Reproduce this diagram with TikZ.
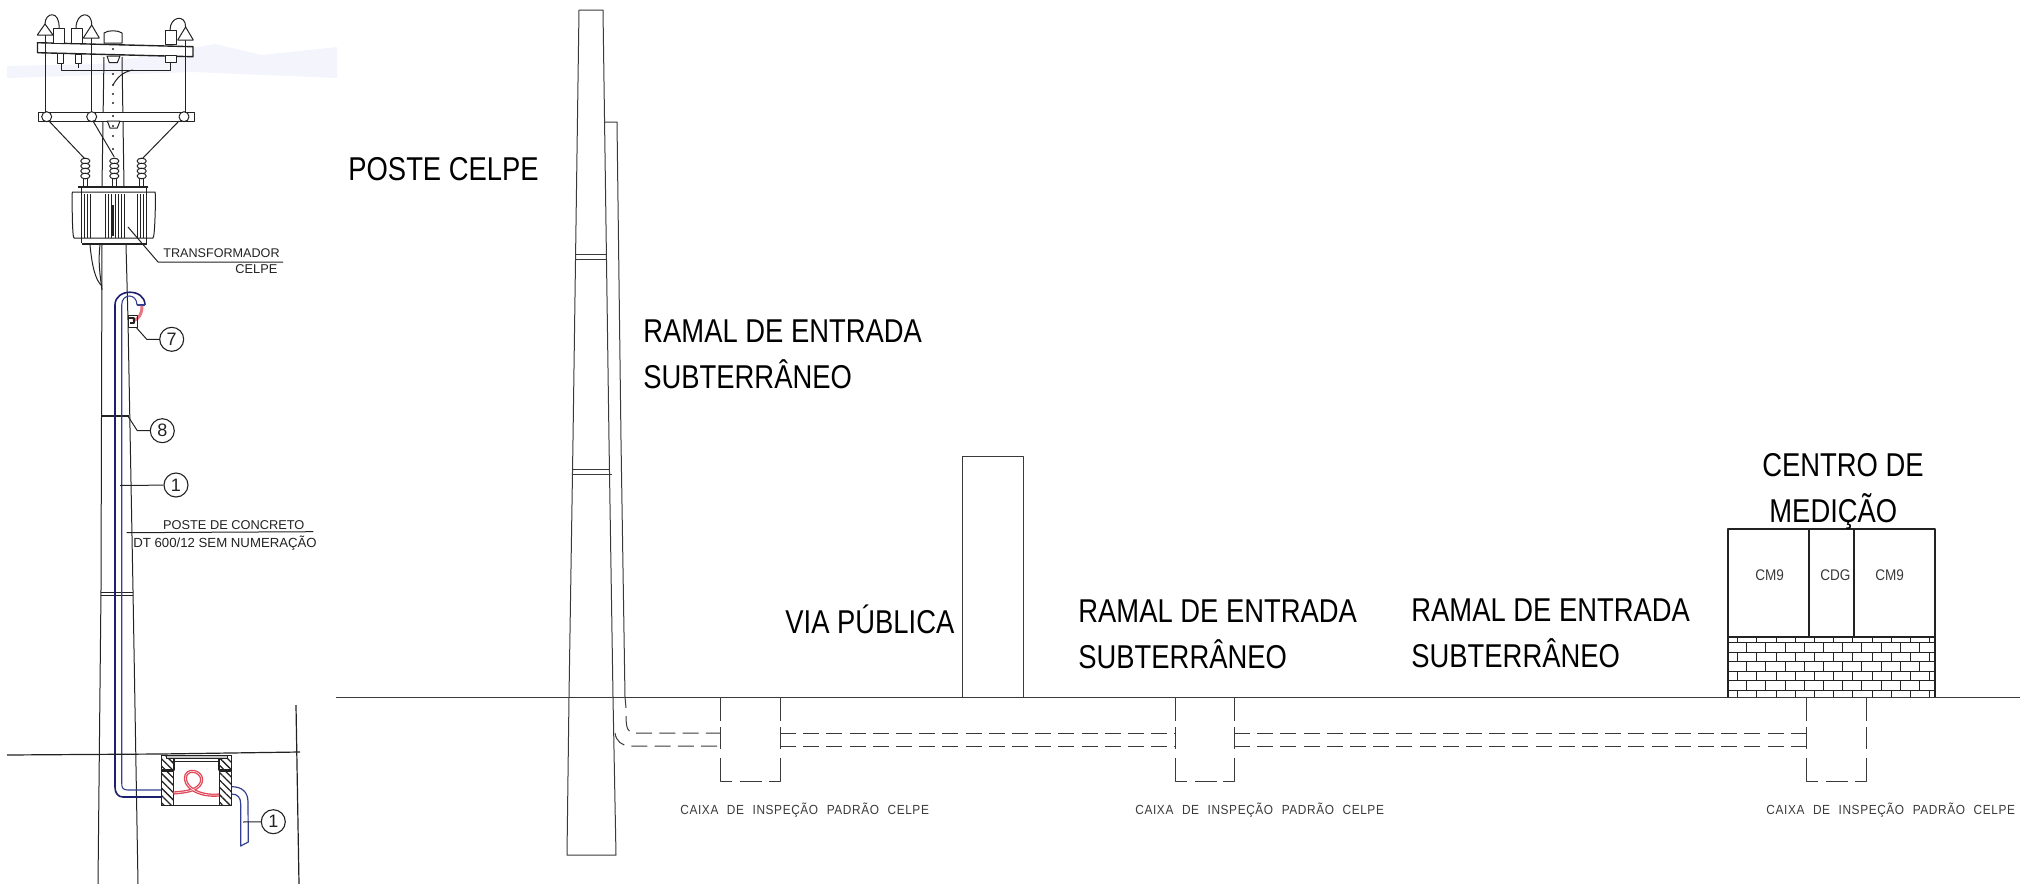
\documentclass[tikz,border=0pt]{standalone}
\usepackage{fontspec}
\usetikzlibrary{patterns.meta}
\setmainfont{Liberation Sans}
\newfontfamily\bigf[FakeStretch=.83]{Liberation Sans}
\newfontfamily\cmf[FakeStretch=.88]{Liberation Sans}
\newfontfamily\caixaf[FakeStretch=.9,LetterSpace=4.5,WordSpace=2.2]{Liberation Sans}
\definecolor{ink}{HTML}{222222}
\definecolor{cad}{HTML}{3A3A3A}
\definecolor{navy}{HTML}{1B1F6E}
\definecolor{blu}{HTML}{34408F}
\definecolor{redc}{HTML}{E0485A}
\definecolor{smear}{HTML}{F3F4FC}
\tikzset{
  bigt/.style={anchor=base west,inner sep=0pt,text=black,font={\fontsize{16.5}{20}\bigf}},
  cmt/.style={anchor=base west,inner sep=0pt,text=cad,font={\fontsize{7.7}{9}\cmf}},
  caixat/.style={anchor=base west,inner sep=0pt,text=cad,font={\fontsize{6.6}{8}\caixaf}},
  notet/.style={anchor=base west,inner sep=0pt,text=ink,font={\fontsize{6.4}{8}\selectfont}},
  old/.style={draw=ink,line width=.5pt},
  oldk/.style={draw=ink,line width=.7pt},
  cadl/.style={draw=cad,line width=.5pt},
  cadd/.style={draw=cad,line width=.5pt,dash pattern=on 8pt off 3.6pt},
  call/.style={circle,draw=ink,line width=.55pt,minimum size=24*.5pt,inner sep=0pt,text=ink,font={\fontsize{9}{10}\selectfont}},
  brick/.style={draw=ink,line width=.45pt},
  hatchw/.style={draw=ink,line width=.5pt,fill=white,postaction={pattern={Lines[angle=-45,distance=2.6pt,line width=.65pt]},pattern color=ink}},
}
\begin{document}
\begin{tikzpicture}[x=.5pt,y=-.5pt,line join=round]
\useasboundingbox (0,0) rectangle (2020,884);
% smear behind the top of the left drawing
\fill[smear] (7,66) -- (100,64) -- (193,48) -- (215,44) -- (262,55) -- (337,47) -- (337,78) -- (193,72) -- (7,78) -- cycle;
% ---------- left drawing: pole
\draw[old] (104,57) -- (102,186);
\draw[old] (122,57) -- (124,186);
\draw[old] (102,245) -- (101,590) -- (98,884);
\draw[old] (126,245) -- (128,320) -- (133,590) -- (138,884);
\draw[old,fill=white] (104,43) -- (104,33) .. controls (108,30) and (118,30) .. (122,33) -- (122,43) -- cycle;
\draw[oldk,line width=1pt] (102,416) -- (129,416);
\draw[old] (101,592) -- (133,592) (101,595) -- (133,595);
% top crossarm
\draw[oldk,fill=white] (37.5,42.7) -- (37.5,52.7) -- (193,56.7) -- (193,46.7) -- cycle;
% vertical wires and insulators
\draw[old] (45,35) -- (45,113) (91.7,38) -- (91.7,113) (185.6,40) -- (185.6,113);
\draw[old,fill=white] (37.3,35) -- (45,24) -- (53,35) -- cycle;
\draw[old,fill=white] (83.3,38) -- (91.7,25) -- (99.3,38) -- cycle;
\draw[old,fill=white] (177.7,40) -- (185.6,27) -- (193.3,40) -- cycle;
% fuses
\draw[old,fill=white] (53.3,28) rectangle (64,43);
\draw[old,fill=white] (71,28) rectangle (82,43);
\draw[old,fill=white] (165,30) rectangle (176.7,44.5);
\draw[old,fill=white] (57,53.5) rectangle (63.5,63);
\draw[old,fill=white] (75,54) rectangle (81,63);
\draw[old,fill=white] (165,55.5) rectangle (176.7,62);
\draw[old] (45,24) .. controls (45,12) and (60,10) .. (59,28);
\draw[old] (76,28) .. controls (76,12) and (92,10) .. (91.7,25);
\draw[old] (170,30) .. controls (170,16) and (186,14) .. (185.6,27);
% jumper wire
\draw[old] (61,63) -- (61,70) -- (170,70) -- (170,62) (78,63) -- (78,68);
\draw[old] (133,70) .. controls (122,72) and (117,78) .. (113,85);
% brackets
\draw[old,fill=white] (107,56) -- (120,56) -- (117.3,62.7) -- (109.3,62.7) -- cycle;
% lower crossarm
\draw[old,fill=white] (38,112) rectangle (194,121);
\draw[old,fill=white] (107.3,121) -- (120,121) -- (117.3,128) -- (110,128) -- cycle;
\foreach \cx in {46.7,91.7,184} \draw[old,fill=white] (\cx,116.7) circle (5);
\foreach \dy in {49,74,85,94,103,116,126,136,149} \fill[ink] (113,\dy) circle (1.2);
% cables to bushings
\draw[old] (49,121) -- (85,159) (93,121) -- (114.3,157) (179,121) -- (142,159);
% bushings
\foreach \bx in {85.3,114.3,141.7}{
  \draw[old] (\bx-2,178) -- (\bx-2,186) (\bx+2,178) -- (\bx+2,186);
  \foreach \by in {161,166,171,176} \draw[old,fill=white] (\bx,\by) ellipse (4.6 and 2.8);
}
% transformer
\draw[oldk,line width=1pt] (78,187) -- (148,187);
\draw[old,fill=white] (72.3,192) -- (155,192) .. controls (156,192) and (155,238) .. (153,238) -- (74,238) .. controls (72,238) and (72,192) .. (72.3,192) -- cycle;
\draw[old] (81.7,187) -- (81.7,238) (146.7,187) -- (146.7,238);
\foreach \fx in {84,87,90,105,108,111,115,118,121,124,137,140,143} \draw[old] (\fx,194) -- (\fx,238);
\draw[line width=.9pt,draw=ink] (113,205) -- (113,236);
\draw[old] (81.7,238) -- (81.7,243) (146.7,238) -- (146.7,243);
\draw[oldk] (82,244) -- (147,244);
% loop of cable
\draw[old] (90,245) .. controls (92,265) and (95,280) .. (102,286);
\draw[old] (100,245) .. controls (98,262) and (100,275) .. (102,290);
% transformer note
\coordinate (trA) at (128,227);
\coordinate (trB) at (158,262);
\coordinate (trC) at (283,262);
\draw[old] (trA) -- (trB) -- (trC);
\node[notet,font={\fontsize{6.3}{8}\selectfont}] (t1) at (163,257) {TRANSFORMADOR};
\node[notet] (t2) at (235,273) {CELPE};
% pole note
\coordinate (poA) at (126.7,532.7);
\coordinate (poB) at (313.3,531.7);
\draw[old] (poA) -- (poB);
\node[notet] (t3) at (162.7,529) {POSTE DE CONCRETO};
\node[notet,font={\fontsize{6.6}{8}\selectfont}] (t4) at (133,547.3) {DT 600/12 SEM NUMERAÇÃO};
% blue cable
\draw[navy,line width=.8pt] (115,787) -- (115,305) .. controls (115,288) and (145,288) .. (145,305);
\draw[blu,line width=.55pt] (121.7,783) -- (121.7,305) .. controls (121.7,293) and (137,293) .. (137,305);
\draw[navy,line width=.8pt] (115,787) .. controls (115,793) and (118,797) .. (123,797) -- (161,797);
\draw[blu,line width=.55pt] (121.7,783) .. controls (121.7,788) and (123,790) .. (128,790) -- (161,790);
\draw[blu,line width=.7pt] (137,305) -- (145,305);
\draw[redc!75!white,line width=1.5pt] (142,306) .. controls (142,314) and (139,319) .. (133,321);
\draw[old] (128,315) rectangle (137,327);
\draw[ink,line width=.7pt] (128,318) -- (134,318) -- (134,323) -- (130,323);
% callouts
\node[call] (c7) at (171.7,339.3) {7};
\coordinate (l7a) at (136.7,328);
\coordinate (l7b) at (146.7,339.3);
\draw[old] (l7a) -- (l7b) -- (c7);
\node[call] (c8) at (162.3,430.7) {8};
\coordinate (l8a) at (128.3,416.7);
\coordinate (l8b) at (137.3,430.7);
\draw[old] (l8a) -- (l8b) -- (c8);
\node[call] (c1) at (176,485) {1};
\coordinate (l1a) at (120,485.5);
\draw[old] (l1a) -- (c1);
% ground lines
\draw[old,line width=.6pt] (7,755) -- (160,754) -- (300,752);
\draw[old,line width=.6pt] (296,705) -- (299,884);
% inspection box
\draw[hatchw] (161,755) -- (173.3,755) -- (173.3,770) -- (161,770) -- cycle;
\draw[hatchw] (219.3,755) -- (231.7,755) -- (231.7,770) -- (219.3,770) -- cycle;
\draw[hatchw] (161,771) rectangle (173.3,805);
\draw[hatchw] (219.3,771) rectangle (231.7,805);
\draw[old] (161,805) -- (231.7,805);
\draw[old,fill=gray!45] (166,755) rectangle (227,758.5);
\draw[old] (172,761) -- (220,761);
\draw[ink,line width=1.2pt] (161,770) -- (174,770) -- (174,759) (219,759) -- (219,770) -- (231.7,770);
% red cable
\draw[redc,line width=1.6pt] (173.5,793) .. controls (185,792) and (197,791) .. (201,783) .. controls (205,773) and (190,767) .. (186,775) .. controls (182,786) and (198,797) .. (219,795);
\draw[white,line width=.25pt] (173.5,793) .. controls (185,792) and (197,791) .. (201,783) .. controls (205,773) and (190,767) .. (186,775) .. controls (182,786) and (198,797) .. (219,795);
% exit cable
\draw[blu,line width=.6pt] (231.7,786.7) .. controls (242,786.7) and (248,792) .. (248,802) -- (248.3,842) -- (240.7,846) -- (240.7,804) .. controls (240.7,798) and (238,794) .. (231.7,794);
\node[call] (c1b) at (273.3,821.7) {1};
\coordinate (l1b) at (243,822);
\draw[old] (l1b) -- (c1b);
% ---------- right drawing: ground
\coordinate (gL) at (336,697);
\coordinate (gR) at (2020,697);
\draw[cadl] (gL) -- (gR);
% main pole
\draw[cadl] (579,10) -- (603,10) (579,10) -- (573,440) -- (569,697) -- (567,855) -- (616,855) -- (613,697) -- (609,440) -- (603,10);
\draw[cadl] (575,254) -- (607,254) (575,259) -- (607,259);
\draw[cadl] (572,469) -- (610,469) (572,474) -- (612,474);
% pole sleeve
\draw[cadl] (604,122) -- (617,122) -- (619,280) -- (621,440) -- (625,697) -- (626,708);
% conduit bends
\draw[cadd] (626,716) .. controls (626,728) and (628,733) .. (634,733) -- (720,733);
\draw[cadd] (615,733) .. controls (616,741) and (622,746) .. (630,746) -- (720,746);
% inspection boxes
\foreach \bxa/\bxb in {720/780,1175/1234,1806/1866}{
  \draw[cadl] (\bxa,697) -- (\bxa,721) (\bxa,727) -- (\bxa,749) (\bxb,697) -- (\bxb,721) (\bxb,727) -- (\bxb,749);
  \draw[cadl] (\bxa,758) -- (\bxa,781) -- (\bxa+12,781) (\bxa+20,781) -- (\bxa+42,781) (\bxb-11,781) -- (\bxb,781) -- (\bxb,758);
}
\draw[cadd] (780,733) -- (1175,733) (780,746) -- (1175,746);
\draw[cadd] (1234,733) -- (1806,733) (1234,746) -- (1806,746);
% wall
\draw[cadl] (962,697) -- (962,456) -- (1023,456) -- (1023,697);
% metering centre
\draw[brick,line width=.55pt] (1728,697) -- (1728,529) -- (1935,529) -- (1935,697);
\draw[brick,line width=.55pt] (1728,637) -- (1935,637) (1809,529) -- (1809,637) (1854,529) -- (1854,637);
\foreach \ry in {642.7,652,661.7,671.3,680.7,690.7} \draw[brick] (1728,\ry) -- (1935,\ry);
\foreach \ya/\yb in {637/642.7,652/661.7,671.3/680.7,690.7/697}
  \foreach \k in {0,...,10} \draw[brick] ({1737.7+19.2*\k},\ya) -- ({1737.7+19.2*\k},\yb);
\foreach \ya/\yb in {642.7/652,661.7/671.3,680.7/690.7}
  \foreach \k in {0,...,9} \draw[brick] ({1746.7+19.2*\k},\ya) -- ({1746.7+19.2*\k},\yb);
% texts
\node[bigt] (n1) at (348,180) {POSTE CELPE};
\node[bigt] (n2) at (643,342) {RAMAL DE ENTRADA};
\node[bigt] (n3) at (643,388) {SUBTERRÂNEO};
\node[bigt] (n4) at (785,633) {VIA PÚBLICA};
\node[bigt] (n5) at (1078,622) {RAMAL DE ENTRADA};
\node[bigt] (n6) at (1078,668) {SUBTERRÂNEO};
\node[bigt] (n7) at (1411,621) {RAMAL DE ENTRADA};
\node[bigt] (n8) at (1411,667) {SUBTERRÂNEO};
\node[bigt] (n9) at (1762,476) {CENTRO DE};
\node[bigt] (n10) at (1769,522) {MEDIÇÃO};
\node[cmt] (m1) at (1755,580) {CM9};
\node[cmt] (m2) at (1820,580) {CDG};
\node[cmt] (m3) at (1875,580) {CM9};
\node[caixat] (k1) at (680,814) {CAIXA DE INSPEÇÃO PADRÃO CELPE};
\node[caixat] (k2) at (1135,814) {CAIXA DE INSPEÇÃO PADRÃO CELPE};
\node[caixat] (k3) at (1766,814) {CAIXA DE INSPEÇÃO PADRÃO CELPE};
\end{tikzpicture}
\end{document}
